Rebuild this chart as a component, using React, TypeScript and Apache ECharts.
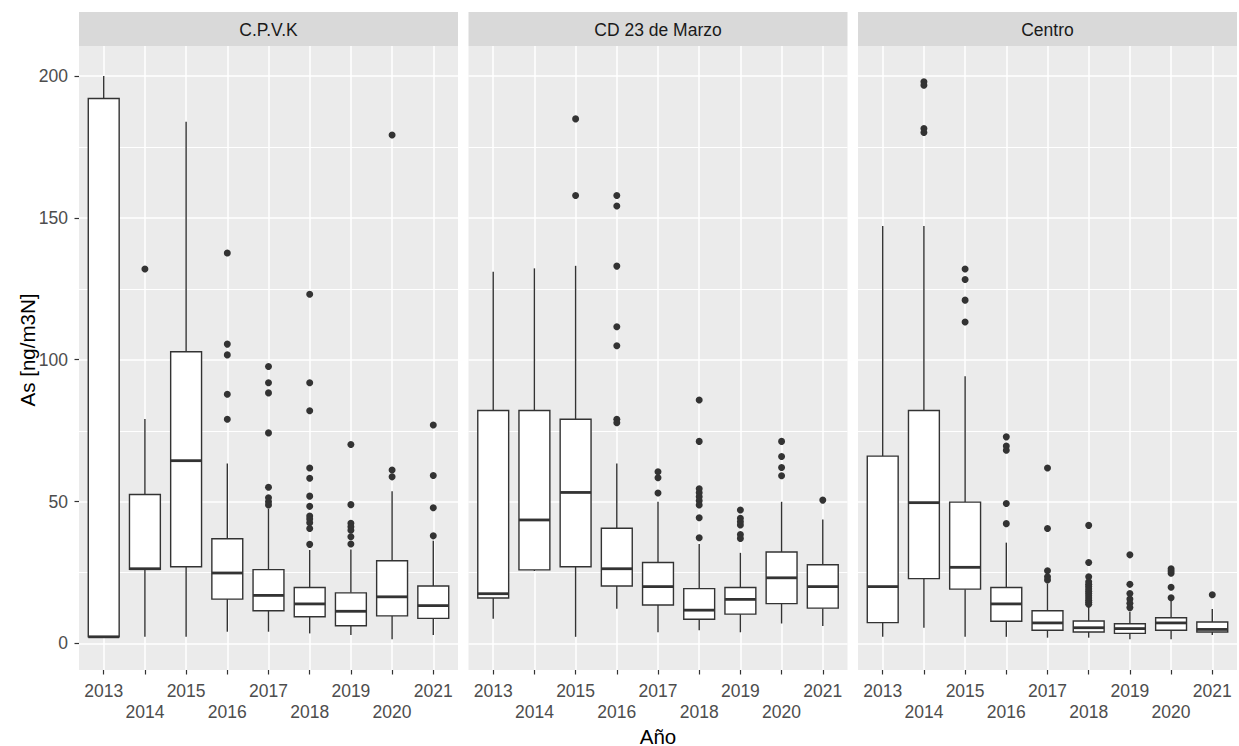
import React, { useEffect, useRef } from 'react';
import * as echarts from 'echarts';

// Categories and facets
const years = ['2013', '2014', '2015', '2016', '2017', '2018', '2019', '2020', '2021'];
const stations = ['C.P.V.K', 'CD 23 de Marzo', 'Centro'];

// Box statistics per year: [lower whisker, Q1, median, Q3, upper whisker] (ng/m3N)
const cpvkBoxes = [
  [2.3, 2.3, 2.3, 192.1, 200.0],
  [2.3, 26.1, 26.3, 52.5, 79.1],
  [2.3, 27.0, 64.4, 102.8, 183.9],
  [4.1, 15.6, 24.8, 36.9, 63.4],
  [4.1, 11.5, 16.9, 26.0, 47.5],
  [3.5, 9.4, 13.9, 19.7, 32.9],
  [2.9, 6.2, 11.3, 17.8, 33.1],
  [1.4, 9.7, 16.4, 29.1, 53.6],
  [2.9, 8.8, 13.3, 20.2, 36.2],
];
const marzoBoxes = [
  [8.7, 16.0, 17.5, 82.1, 131.0],
  [25.5, 25.9, 43.5, 82.1, 132.2],
  [2.3, 27.0, 53.2, 79.0, 133.1],
  [12.2, 20.2, 26.3, 40.6, 63.4],
  [3.9, 13.5, 20.0, 28.5, 49.9],
  [4.6, 8.5, 11.7, 19.3, 35.0],
  [3.9, 10.3, 15.5, 19.7, 31.9],
  [7.0, 14.0, 23.1, 32.2, 49.9],
  [6.1, 12.4, 20.0, 27.7, 43.7],
];
const centroBoxes = [
  [2.3, 7.3, 20.0, 66.0, 147.1],
  [5.5, 22.8, 49.6, 82.1, 147.1],
  [2.3, 19.1, 26.8, 49.8, 94.2],
  [2.3, 7.8, 13.9, 19.7, 35.5],
  [2.0, 4.6, 7.2, 11.5, 21.1],
  [2.0, 4.0, 5.5, 7.9, 12.9],
  [1.4, 3.5, 5.2, 6.9, 11.1],
  [1.4, 4.6, 7.2, 9.0, 15.9],
  [2.9, 4.0, 4.9, 7.5, 12.1],
];

// Outlying observations per year
const cpvkOutliers = [
  [],
  [132.0],
  [],
  [137.6, 105.5, 101.7, 87.8, 79.0],
  [97.6, 91.9, 88.3, 74.2, 55.0, 51.3, 49.9, 48.8],
  [123.1, 91.9, 82.0, 61.8, 58.2, 51.9, 48.3, 44.9, 43.8, 42.5, 40.5, 34.9],
  [70.1, 48.9, 42.3, 41.1, 39.9, 37.6, 35.0],
  [179.2, 61.1, 58.7],
  [77.0, 59.2, 47.8, 37.9],
];
const marzoOutliers = [
  [],
  [],
  [184.9, 157.9],
  [157.9, 154.2, 133.0, 111.6, 104.9, 79.0, 77.8],
  [60.5, 58.4, 53.0],
  [85.8, 71.2, 54.5, 53.1, 51.7, 50.3, 48.8, 44.3, 37.2],
  [47.0, 44.1, 42.9, 41.7, 38.4, 37.0],
  [71.2, 65.9, 62.0, 59.1],
  [50.5],
];
const centroOutliers = [
  [],
  [198.0, 196.8, 181.5, 180.1],
  [132.0, 128.3, 121.0, 113.3],
  [72.8, 69.6, 68.1, 49.3, 42.2],
  [61.8, 40.5, 25.6, 23.5, 22.3],
  [41.6, 28.5, 23.5, 21.7, 20.8, 20.0, 19.2, 18.4, 17.6, 16.8, 16.0, 15.2, 14.5, 13.8],
  [31.2, 20.8, 17.6, 15.6, 14.1, 12.6],
  [26.3, 25.5, 24.7, 19.8, 16.1],
  [17.1],
];

// Axis breaks
const yMajor = [0, 50, 100, 150, 200];
const yMinor = [25, 75, 125, 175];
const yTitle = 'As [ng/m3N]';
const xTitle = 'Año';

const boxesByStation = [cpvkBoxes, marzoBoxes, centroBoxes];
const outliersByStation = [cpvkOutliers, marzoOutliers, centroOutliers];

const FONT = '"Liberation Sans", Arial, Helvetica, sans-serif';
const INK = '#333333';

export default function App() {
  const ref = useRef<HTMLDivElement>(null);

  useEffect(() => {
    document.body.style.margin = '0';
    const chart = echarts.init(ref.current!, null, { renderer: 'svg' });

    const panelLeft = [79, 468.5, 858];
    const panelWidth = 379;
    const panelTop = 46;
    const panelHeight = 624;
    const stripTop = 12;
    const stripHeight = 34;
    const xMin = -0.6;
    const xMax = 8.6;
    const yMin = -9.4;
    const yMax = 210.6;
    const xTicks = years.map((_, i) => i);

    const renderBox = (params: any, api: any) => {
      const x = api.value(0);
      const lo = api.value(1);
      const q1 = api.value(2);
      const med = api.value(3);
      const q3 = api.value(4);
      const hi = api.value(5);
      const cx = api.coord([x, med])[0];
      const yLo = api.coord([x, lo])[1];
      const yQ1 = api.coord([x, q1])[1];
      const yMed = api.coord([x, med])[1];
      const yQ3 = api.coord([x, q3])[1];
      const yHi = api.coord([x, hi])[1];
      const half = api.size([0.75, 0])[0] / 2;
      const thin = { stroke: INK, lineWidth: 1.4, fill: null };
      const children: any[] = [];

      // the first item of each panel also lays the minor horizontal grid lines underneath
      if (params.dataIndex === 0) {
        yMinor.forEach((v) => {
          const a = api.coord([xMin, v]);
          const b = api.coord([xMax, v]);
          const y = Math.round(a[1]) + 0.5;
          children.push({
            type: 'line',
            z2: -10,
            silent: true,
            shape: { x1: a[0], y1: y, x2: b[0], y2: y },
            style: { stroke: '#FFFFFF', lineWidth: 1.1 },
          });
        });
      }

      children.push(
        { type: 'line', shape: { x1: cx, y1: yQ3, x2: cx, y2: yHi }, style: thin },
        { type: 'line', shape: { x1: cx, y1: yQ1, x2: cx, y2: yLo }, style: thin },
        {
          type: 'rect',
          shape: { x: cx - half, y: yQ3, width: half * 2, height: yQ1 - yQ3 },
          style: { fill: '#FFFFFF', stroke: INK, lineWidth: 1.4 },
        },
        {
          type: 'line',
          shape: { x1: cx - half, y1: yMed, x2: cx + half, y2: yMed },
          style: { stroke: INK, lineWidth: 2.8 },
        }
      );
      return { type: 'group', children };
    };

    const grids: any[] = [];
    const xAxes: any[] = [];
    const yAxes: any[] = [];
    const series: any[] = [];
    const graphics: any[] = [];

    stations.forEach((name, i) => {
      grids.push({
        left: panelLeft[i],
        top: panelTop,
        width: panelWidth,
        height: panelHeight,
        show: true,
        backgroundColor: '#EBEBEB',
        borderWidth: 0,
        containLabel: false,
      });
      xAxes.push({
        type: 'value',
        gridIndex: i,
        min: xMin,
        max: xMax,
        position: 'bottom',
        axisLine: { show: false, onZero: false },
        axisTick: {
          show: true,
          customValues: xTicks,
          length: 4.5,
          lineStyle: { color: INK, width: 1.2 },
        },
        axisLabel: {
          show: true,
          customValues: xTicks,
          formatter: (v: number) => {
            const k = Math.round(v);
            return k % 2 === 1 ? '\n' + years[k] : years[k];
          },
          color: '#4D4D4D',
          fontSize: 17.5,
          fontFamily: FONT,
          lineHeight: 21.5,
          margin: 10,
        },
        splitLine: { show: true, lineStyle: { color: '#FFFFFF', width: 1.5 } },
      });
      yAxes.push({
        type: 'value',
        gridIndex: i,
        min: yMin,
        max: yMax,
        axisLine: { show: false, onZero: false },
        axisTick: {
          show: i === 0,
          customValues: yMajor,
          length: 4.5,
          lineStyle: { color: INK, width: 1.2 },
        },
        axisLabel: {
          show: i === 0,
          customValues: yMajor,
          color: '#4D4D4D',
          fontSize: 17.5,
          fontFamily: FONT,
          margin: 11,
        },
        splitLine: { show: true, lineStyle: { color: '#FFFFFF', width: 1.5 } },
      });

      // strip header
      graphics.push({
        type: 'rect',
        shape: { x: panelLeft[i], y: stripTop, width: panelWidth, height: stripHeight },
        style: { fill: '#D9D9D9' },
        silent: true,
      });
      graphics.push({
        type: 'text',
        x: panelLeft[i] + panelWidth / 2,
        y: stripTop + stripHeight / 2 + 1,
        style: {
          text: name,
          fill: '#1A1A1A',
          font: `17.5px ${FONT}`,
          textAlign: 'center',
          textVerticalAlign: 'middle',
        },
        silent: true,
      });
    });

    stations.forEach((_, i) => {
      const boxes = boxesByStation[i];
      series.push({
        type: 'custom',
        xAxisIndex: i,
        yAxisIndex: i,
        renderItem: renderBox,
        encode: { x: 0, y: [1, 2, 3, 4, 5] },
        data: boxes.map((b, k) => [k, ...b]),
        clip: false,
        z: 3,
      });
      const pts: number[][] = [];
      outliersByStation[i].forEach((vals, k) => vals.forEach((v) => pts.push([k, v])));
      series.push({
        type: 'scatter',
        xAxisIndex: i,
        yAxisIndex: i,
        data: pts,
        symbol: 'circle',
        symbolSize: 7,
        itemStyle: { color: INK, opacity: 1 },
        z: 4,
      });
    });

    graphics.push({
      type: 'text',
      x: 27,
      y: 350,
      rotation: Math.PI / 2,
      style: {
        text: yTitle,
        fill: '#000000',
        font: `20.5px ${FONT}`,
        textAlign: 'center',
        textVerticalAlign: 'middle',
      },
      silent: true,
    });
    graphics.push({
      type: 'text',
      x: 658,
      y: 736,
      style: {
        text: xTitle,
        fill: '#000000',
        font: `20.5px ${FONT}`,
        textAlign: 'center',
        textVerticalAlign: 'middle',
      },
      silent: true,
    });

    chart.setOption({
      animation: false,
      backgroundColor: '#FFFFFF',
      grid: grids,
      xAxis: xAxes,
      yAxis: yAxes,
      series,
      graphic: graphics,
    });

    return () => chart.dispose();
  }, []);

  return <div ref={ref} style={{ width: 1239, height: 746 }} />;
}
